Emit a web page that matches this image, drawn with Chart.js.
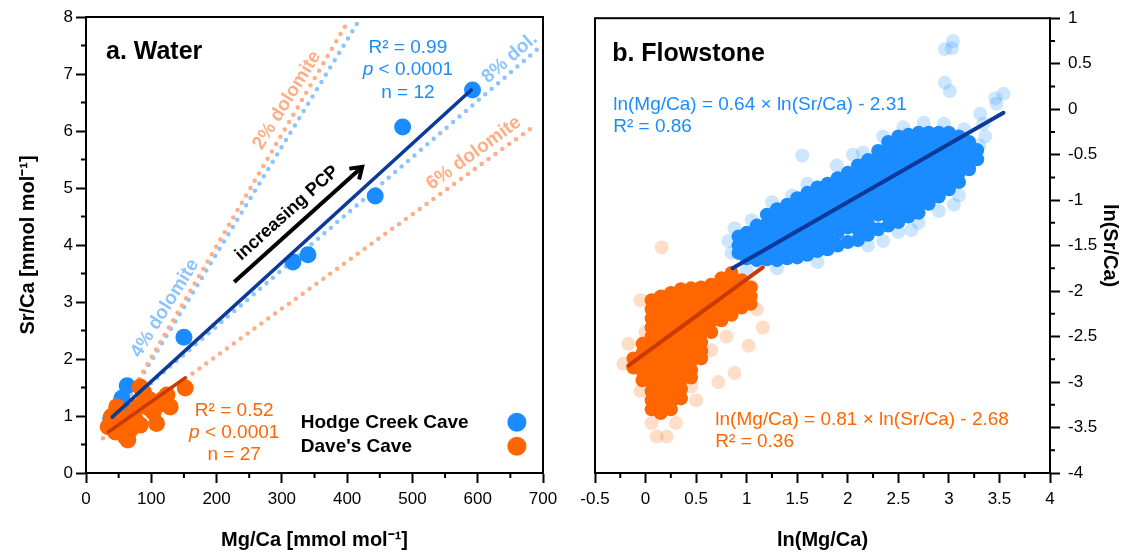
<!DOCTYPE html>
<html lang="en">
<head>
    <title>Sr/Ca vs Mg/Ca - water and flowstone</title>
    <meta charset="UTF-8">
    <script src="https://cdn.jsdelivr.net/npm/chart.js"></script>
    <style>
        body { margin: 0; background: #fff; }
        #wrap { position: relative; width: 1137px; height: 553px; }
        #wrap canvas { position: absolute; top: 0; }
        #water { left: 0; }
        #flow { left: 570px; }
    </style>
</head>
<body>
<div id="wrap">
    <canvas id="water" width="570" height="553"></canvas>
    <canvas id="flow" width="567" height="553"></canvas>
</div>
<script>
// ---- a. Water : drip water Mg/Ca and Sr/Ca [mmol/mol] ----
const hodgeMg = [592, 485, 443, 340, 317, 150, 63, 55, 60, 38, 50, 65];
const hodgeSr = [6.72, 6.07, 4.86, 3.83, 3.70, 2.38, 1.53, 1.31, 1.10, 0.96, 0.98, 0.95];
const davesMg = [83, 90, 116, 124, 152, 47, 42, 34, 60, 64, 83, 103, 108, 72, 57, 98, 129, 80, 39, 67, 88, 75, 52, 95, 112, 62, 45];
const davesSr = [1.51, 1.31, 1.28, 1.37, 1.49, 1.16, 0.87, 0.81, 0.64, 0.58, 0.84, 1.07, 0.87, 1.05, 0.93, 1.28, 1.16, 1.16, 0.99, 0.75, 1.42, 0.95, 0.78, 1.15, 1.20, 0.68, 0.72];

// regression lines
const hodgeFitMg = [40, 590];
const hodgeFitSr = [0.98, 6.72];
const davesFitMg = [34, 152];
const davesFitSr = [0.72, 1.67];

// dolomite dissolution model lines
const dol2Mg = [35, 401];
const dol2Sr = [0.75, 7.92];
const dol4Mg = [35, 417];
const dol4Sr = [0.75, 7.92];
const dol6Mg = [26, 688];
const dol6Sr = [0.61, 6.10];
const dol8Mg = [40, 695];
const dol8Sr = [0.99, 7.47];

// ---- b. Flowstone : ln(Mg/Ca) vs ln(Sr/Ca) ----
// dense part of the clouds, read column by column
const hodgeFlowColX = [0.92, 1.00, 1.10, 1.20, 1.30, 1.40, 1.50, 1.60, 1.70, 1.80, 1.90, 2.00, 2.10,
                       2.20, 2.30, 2.40, 2.50, 2.60, 2.70, 2.80, 2.90, 3.00, 3.10, 3.20, 3.28];
const hodgeFlowColY = [
    [-1.40, -1.50, -1.58],
    [-1.36, -1.46, -1.56, -1.64],
    [-1.28, -1.38, -1.48, -1.58, -1.66],
    [-1.16, -1.26, -1.36, -1.46, -1.56, -1.65],
    [-1.10, -1.20, -1.30, -1.40, -1.50, -1.60, -1.66],
    [-1.05, -1.15, -1.25, -1.35, -1.45, -1.55, -1.64],
    [-0.98, -1.08, -1.18, -1.28, -1.38, -1.48, -1.58, -1.63],
    [-0.92, -1.02, -1.12, -1.22, -1.32, -1.42, -1.52, -1.60],
    [-0.86, -0.96, -1.06, -1.16, -1.26, -1.36, -1.46, -1.56],
    [-0.82, -0.92, -1.02, -1.12, -1.22, -1.32, -1.42, -1.54],
    [-0.76, -0.86, -0.96, -1.06, -1.16, -1.26, -1.36, -1.50],
    [-0.70, -0.80, -0.90, -1.00, -1.10, -1.20, -1.30, -1.46],
    [-0.62, -0.72, -0.82, -0.92, -1.02, -1.12, -1.22, -1.32, -1.44],
    [-0.56, -0.66, -0.76, -0.86, -0.96, -1.06, -1.16, -1.26, -1.38],
    [-0.46, -0.56, -0.66, -0.76, -0.86, -0.96, -1.06, -1.16, -1.32],
    [-0.36, -0.46, -0.56, -0.66, -0.76, -0.86, -0.96, -1.06, -1.18, -1.28],
    [-0.30, -0.40, -0.50, -0.60, -0.70, -0.80, -0.90, -1.00, -1.12, -1.24],
    [-0.28, -0.38, -0.48, -0.58, -0.68, -0.78, -0.88, -0.98, -1.08, -1.18],
    [-0.26, -0.36, -0.46, -0.56, -0.66, -0.76, -0.86, -0.96, -1.06, -1.14],
    [-0.26, -0.36, -0.46, -0.56, -0.66, -0.76, -0.86, -0.96, -1.04],
    [-0.26, -0.36, -0.46, -0.56, -0.66, -0.76, -0.86, -0.96],
    [-0.26, -0.36, -0.46, -0.56, -0.66, -0.76, -0.88],
    [-0.30, -0.40, -0.50, -0.60, -0.70, -0.80],
    [-0.36, -0.46, -0.56, -0.66],
    [-0.45, -0.55]
];
const davesFlowColX = [-0.12, -0.03, 0.06, 0.15, 0.25, 0.35, 0.45, 0.55, 0.65, 0.75, 0.85, 0.95, 1.04];
const davesFlowColY = [
    [-2.74, -2.84],
    [-2.58, -2.68, -2.78, -2.88, -2.98],
    [-2.10, -2.20, -2.30, -2.40, -2.50, -2.60, -2.70, -2.80, -2.90, -3.00, -3.10, -3.20, -3.30],
    [-2.06, -2.16, -2.26, -2.36, -2.46, -2.56, -2.66, -2.76, -2.86, -2.96, -3.06, -3.16, -3.26, -3.34],
    [-2.02, -2.12, -2.22, -2.32, -2.42, -2.52, -2.62, -2.72, -2.82, -2.92, -3.02, -3.12, -3.22, -3.30],
    [-1.98, -2.08, -2.18, -2.28, -2.38, -2.48, -2.58, -2.68, -2.78, -2.88, -2.98, -3.08, -3.18],
    [-1.97, -2.07, -2.17, -2.27, -2.37, -2.47, -2.57, -2.67, -2.77, -2.87, -2.95],
    [-1.96, -2.06, -2.16, -2.26, -2.36, -2.46, -2.56, -2.66, -2.74],
    [-1.93, -2.03, -2.13, -2.23, -2.33, -2.45],
    [-1.86, -1.96, -2.06, -2.16, -2.26, -2.32],
    [-1.80, -1.90, -2.00, -2.10, -2.20, -2.26],
    [-1.88, -1.98, -2.08, -2.18],
    [-1.96, -2.06, -2.14]
];
// sparse samples around the clouds
const hodgeSparseMg = [2.96, 3.04, 3.03, 2.96, 3.01, 3.46, 3.54, 3.47, 3.31, 3.34, 3.36, 3.30, 3.25, 1.55, 1.89,
                       0.82, 0.85, 0.88, 1.05, 1.25, 1.45, 1.60, 2.05, 2.15, 2.35, 2.55, 2.75, 2.95, 3.15,
                       2.20, 2.50, 2.70, 2.90, 3.10, 1.30, 1.70, 2.35, 1.00, 2.63, 3.05];
const hodgeSparseSr = [0.66, 0.75, 0.67, 0.29, 0.20, 0.12, 0.17, 0.06, -0.05, -0.16, -0.30, -0.40, -0.55, -0.51, -0.62,
                       -1.45, -1.58, -1.31, -1.22, -1.02, -0.95, -0.82, -0.50, -0.48, -0.30, -0.20, -0.15, -0.16, -0.22,
                       -1.50, -1.35, -1.25, -1.12, -0.95, -1.75, -1.68, -1.45, -1.77, -1.33, -1.05];
const davesSparseMg = [0.16, 1.16, 1.02, -0.17, -0.22, 0.72, 0.88, 0.11, 0.21, 0.06, -0.05, 0.45, 0.65, 0.80,
                       1.10, 1.05, -0.05, 0.00, 0.50, 0.30];
const davesSparseSr = [-1.52, -2.40, -2.60, -2.58, -2.80, -3.00, -2.90, -3.60, -3.60, -3.45, -3.10, -3.05, -2.65, -2.50,
                       -2.20, -1.95, -2.10, -2.45, -3.20, -3.45];
const hodgeFlowFitX = [0.86, 3.54];
const hodgeFlowFitY = [-1.75, -0.04];
const davesFlowFitX = [-0.17, 1.16];
const davesFlowFitY = [-2.82, -1.74];

// 色
const BLUE = '#1a8cff';
const ORANGE = '#ff6600';
const BLUE_FIT = '#0b3a99';
const ORANGE_FIT = '#c93a00';
const LIGHT_BLUE = '#8cc4ff';
const LIGHT_ORANGE = '#ffae85';
const FONT = '"Liberation Sans", Arial, Helvetica, sans-serif';

Chart.defaults.font.family = FONT;
Chart.defaults.color = '#000';

const pts = (xs, ys) => xs.map((x, i) => ({x: x, y: ys[i]}));
const colPts = (xs, cols) => xs.flatMap((x, i) => cols[i].map(y => ({x: x, y: y})));
const plainNum = v => String(+Number(v).toFixed(2));

// 枠とマイナー目盛り
const frameTicks = {
    id: 'frameTicks',
    afterDraw(chart, args, opts) {
        const {ctx, chartArea: a} = chart;
        ctx.save();
        ctx.strokeStyle = '#000';
        ctx.lineWidth = 2;
        ctx.strokeRect(a.left, a.top, a.right - a.left, a.bottom - a.top);
        const minor = opts.minor || {};
        Object.keys(minor).forEach(id => {
            const s = chart.scales[id];
            const step = minor[id];
            ctx.beginPath();
            for (let k = 1; s.min + k * step < s.max - 1e-9; k += 2) {
                const p = s.getPixelForValue(s.min + k * step);
                if (s.isHorizontal()) { ctx.moveTo(p, a.bottom); ctx.lineTo(p, a.bottom + 5); }
                else if (s.position === 'left') { ctx.moveTo(a.left, p); ctx.lineTo(a.left - 5, p); }
                else { ctx.moveTo(a.right, p); ctx.lineTo(a.right + 5, p); }
            }
            ctx.stroke();
        });
        ctx.restore();
    }
};

// テキスト注記（データ座標で配置）
const notes = {
    id: 'notes',
    afterDatasetsDraw(chart, args, opts) {
        const ctx = chart.ctx;
        const sx = chart.scales.x, sy = chart.scales.y;
        ctx.save();
        (opts.items || []).forEach(n => {
            const px = sx.getPixelForValue(n.x), py = sy.getPixelForValue(n.y);
            const weight = n.bold ? 'bold ' : '';
            const runs = n.italicP
                ? [{t: 'p', f: 'italic ' + n.size + 'px ' + FONT}, {t: n.text, f: weight + n.size + 'px ' + FONT}]
                : [{t: n.text, f: weight + n.size + 'px ' + FONT}];
            let w = 0;
            runs.forEach(r => { ctx.font = r.f; w += ctx.measureText(r.t).width; });
            ctx.save();
            ctx.translate(px, py);
            ctx.rotate((n.rot || 0) * Math.PI / 180);
            ctx.fillStyle = n.color;
            ctx.textAlign = 'left';
            ctx.textBaseline = n.rot ? 'middle' : 'alphabetic';
            let cx = n.align === 'center' ? -w / 2 : 0;
            runs.forEach(r => { ctx.font = r.f; ctx.fillText(r.t, cx, 0); cx += ctx.measureText(r.t).width; });
            ctx.restore();
        });
        (opts.legend || []).forEach(l => {
            ctx.font = 'bold 19px ' + FONT;
            ctx.fillStyle = '#000';
            ctx.textAlign = 'left';
            ctx.textBaseline = 'alphabetic';
            ctx.fillText(l.text, sx.getPixelForValue(l.x), sy.getPixelForValue(l.y));
            ctx.beginPath();
            ctx.fillStyle = l.color;
            ctx.arc(sx.getPixelForValue(l.cx), sy.getPixelForValue(l.cy), 9.5, 0, Math.PI * 2);
            ctx.fill();
        });
        if (opts.arrow) {
            const ar = opts.arrow;
            const x0 = sx.getPixelForValue(ar.x[0]), y0 = sy.getPixelForValue(ar.y[0]);
            const x1 = sx.getPixelForValue(ar.x[1]), y1 = sy.getPixelForValue(ar.y[1]);
            const ang = Math.atan2(y1 - y0, x1 - x0);
            ctx.strokeStyle = '#000';
            ctx.lineWidth = 4;
            ctx.lineCap = 'butt';
            ctx.lineJoin = 'miter';
            ctx.beginPath();
            ctx.moveTo(x0, y0);
            ctx.lineTo(x1 - 2 * Math.cos(ang), y1 - 2 * Math.sin(ang));
            ctx.stroke();
            ctx.beginPath();
            ctx.moveTo(x1 - 13 * Math.cos(ang - 0.6), y1 - 13 * Math.sin(ang - 0.6));
            ctx.lineTo(x1, y1);
            ctx.lineTo(x1 - 13 * Math.cos(ang + 0.6), y1 - 13 * Math.sin(ang + 0.6));
            ctx.stroke();
        }
        ctx.restore();
    }
};

function axis(opts) {
    return Object.assign({
        type: 'linear',
        grid: { drawOnChartArea: false, drawTicks: true, tickLength: 10, tickWidth: 2, tickColor: '#000' },
        border: { display: true, color: '#000', width: 2 }
    }, opts);
}

function dotted(xs, ys, color) {
    return { type: 'scatter', data: pts(xs, ys), showLine: true, pointRadius: 0, borderColor: color,
             borderWidth: 4.5, borderDash: [0, 8.5], borderCapStyle: 'round', order: 5 };
}
function fit(xs, ys, color, w) {
    return { type: 'scatter', data: pts(xs, ys), showLine: true, pointRadius: 0, borderColor: color,
             borderWidth: w, borderCapStyle: 'round', order: 0 };
}

// ---- a. Water ----
new Chart(document.getElementById('water'), {
    type: 'scatter',
    data: {
        datasets: [
            { label: 'Hodge Creek Cave', data: pts(hodgeMg, hodgeSr), backgroundColor: BLUE, borderWidth: 0, pointRadius: 8.5, order: 2 },
            { label: "Dave's Cave", data: pts(davesMg, davesSr), backgroundColor: ORANGE, borderWidth: 0, pointRadius: 8.5, order: 1 },
            fit(hodgeFitMg, hodgeFitSr, BLUE_FIT, 3.5),
            fit(davesFitMg, davesFitSr, ORANGE_FIT, 3.5),
            dotted(dol2Mg, dol2Sr, LIGHT_ORANGE),
            dotted(dol4Mg, dol4Sr, LIGHT_BLUE),
            dotted(dol6Mg, dol6Sr, LIGHT_ORANGE),
            dotted(dol8Mg, dol8Sr, LIGHT_BLUE)
        ]
    },
    options: {
        responsive: false,
        animation: false,
        events: [],
        layout: { padding: { left: 0, right: 27, top: 17, bottom: 0 } },
        scales: {
            x: axis({ min: 0, max: 700, ticks: { stepSize: 100, font: { size: 17 }, color: '#000', padding: 6, callback: plainNum },
                title: { display: true, text: 'Mg/Ca [mmol mol⁻¹]', font: { size: 20, weight: 'bold' }, padding: { top: 0, bottom: 1 } },
                afterFit: s => { s.height = 80; } }),
            y: axis({ min: 0, max: 8, ticks: { stepSize: 1, font: { size: 17 }, color: '#000', padding: 3, callback: plainNum },
                title: { display: true, text: 'Sr/Ca [mmol mol⁻¹]', font: { size: 20, weight: 'bold' }, padding: { top: 16, bottom: 0 } },
                afterFit: s => { s.width = 86; } })
        },
        plugins: {
            legend: { display: false },
            tooltip: { enabled: false },
            frameTicks: { minor: { x: 50, y: 0.5 } },
            notes: {
                items: [
                    { text: 'a. Water', x: 30.6, y: 7.26, size: 25, bold: true, color: '#000' },
                    { text: 'R² = 0.99', x: 493, y: 7.37, size: 19, color: BLUE, align: 'center' },
                    { text: ' < 0.0001', x: 493, y: 6.98, size: 19, color: BLUE, align: 'center', italicP: true },
                    { text: 'n = 12', x: 493, y: 6.58, size: 19, color: BLUE, align: 'center' },
                    { text: 'R² = 0.52', x: 227, y: 1.0, size: 19, color: ORANGE, align: 'center' },
                    { text: ' < 0.0001', x: 227, y: 0.61, size: 19, color: ORANGE, align: 'center', italicP: true },
                    { text: 'n = 27', x: 227, y: 0.23, size: 19, color: ORANGE, align: 'center' },
                    { text: '2% dolomite', x: 308, y: 6.54, rot: -58, size: 19, bold: true, color: LIGHT_ORANGE, align: 'center' },
                    { text: '4% dolomite', x: 121, y: 2.89, rot: -58, size: 19, bold: true, color: LIGHT_BLUE, align: 'center' },
                    { text: '8% dol.', x: 649, y: 7.28, rot: -41, size: 19, bold: true, color: LIGHT_BLUE, align: 'center' },
                    { text: '6% dolomite', x: 594, y: 5.61, rot: -36, size: 19, bold: true, color: LIGHT_ORANGE, align: 'center' },
                    { text: 'increasing PCP', x: 308, y: 4.56, rot: -42, size: 18, bold: true, color: '#000', align: 'center' }
                ],
                legend: [
                    { text: 'Hodge Creek Cave', x: 329, y: 0.79, cx: 660, cy: 0.89, color: BLUE },
                    { text: "Dave's Cave", x: 329, y: 0.37, cx: 660, cy: 0.47, color: ORANGE }
                ],
                arrow: { x: [227, 423], y: [3.35, 5.37] }
            }
        }
    },
    plugins: [frameTicks, notes]
});

// ---- b. Flowstone ----
new Chart(document.getElementById('flow'), {
    type: 'scatter',
    data: {
        datasets: [
            fit(hodgeFlowFitX, hodgeFlowFitY, BLUE_FIT, 4),
            fit(davesFlowFitX, davesFlowFitY, ORANGE_FIT, 4),
            { label: 'Hodge Creek Cave', data: colPts(hodgeFlowColX, hodgeFlowColY), backgroundColor: BLUE, borderWidth: 0, pointRadius: 7, order: 1 },
            { label: "Dave's Cave", data: colPts(davesFlowColX, davesFlowColY), backgroundColor: ORANGE, borderWidth: 0, pointRadius: 7, order: 2 },
            { label: 'Hodge Creek Cave (sparse)', data: pts(hodgeSparseMg, hodgeSparseSr), backgroundColor: 'rgba(26,140,255,0.22)', borderWidth: 0, pointRadius: 7, order: 3 },
            { label: "Dave's Cave (sparse)", data: pts(davesSparseMg, davesSparseSr), backgroundColor: 'rgba(255,102,0,0.22)', borderWidth: 0, pointRadius: 7, order: 4 }
        ]
    },
    options: {
        responsive: false,
        animation: false,
        events: [],
        layout: { padding: { left: 25, right: 0, top: 17, bottom: 0 } },
        scales: {
            x: axis({ min: -0.5, max: 4, ticks: { stepSize: 0.5, font: { size: 17 }, color: '#000', padding: 6, callback: plainNum },
                title: { display: true, text: 'ln(Mg/Ca)', font: { size: 20, weight: 'bold' }, padding: { top: 0, bottom: 1 } },
                afterFit: s => { s.height = 80; } }),
            y: axis({ position: 'right', min: -4, max: 1, ticks: { stepSize: 0.5, font: { size: 17 }, color: '#000', padding: 8, callback: plainNum },
                title: { display: true, text: 'ln(Sr/Ca)', font: { size: 20, weight: 'bold' }, padding: { top: 15, bottom: 0 } },
                afterFit: s => { s.width = 87; } })
        },
        plugins: {
            legend: { display: false },
            tooltip: { enabled: false },
            frameTicks: { minor: { x: 0.25, y: 0.25 } },
            notes: {
                items: [
                    { text: 'b. Flowstone', x: -0.33, y: 0.53, size: 25, bold: true, color: '#000' },
                    { text: 'ln(Mg/Ca) = 0.64 × ln(Sr/Ca) - 2.31', x: -0.32, y: -0.01, size: 19, color: BLUE },
                    { text: 'R² = 0.86', x: -0.32, y: -0.25, size: 19, color: BLUE },
                    { text: 'ln(Mg/Ca) = 0.81 × ln(Sr/Ca) - 2.68', x: 0.69, y: -3.47, size: 19, color: ORANGE },
                    { text: 'R² = 0.36', x: 0.69, y: -3.71, size: 19, color: ORANGE }
                ]
            }
        }
    },
    plugins: [frameTicks, notes]
});
</script>
</body>
</html>
